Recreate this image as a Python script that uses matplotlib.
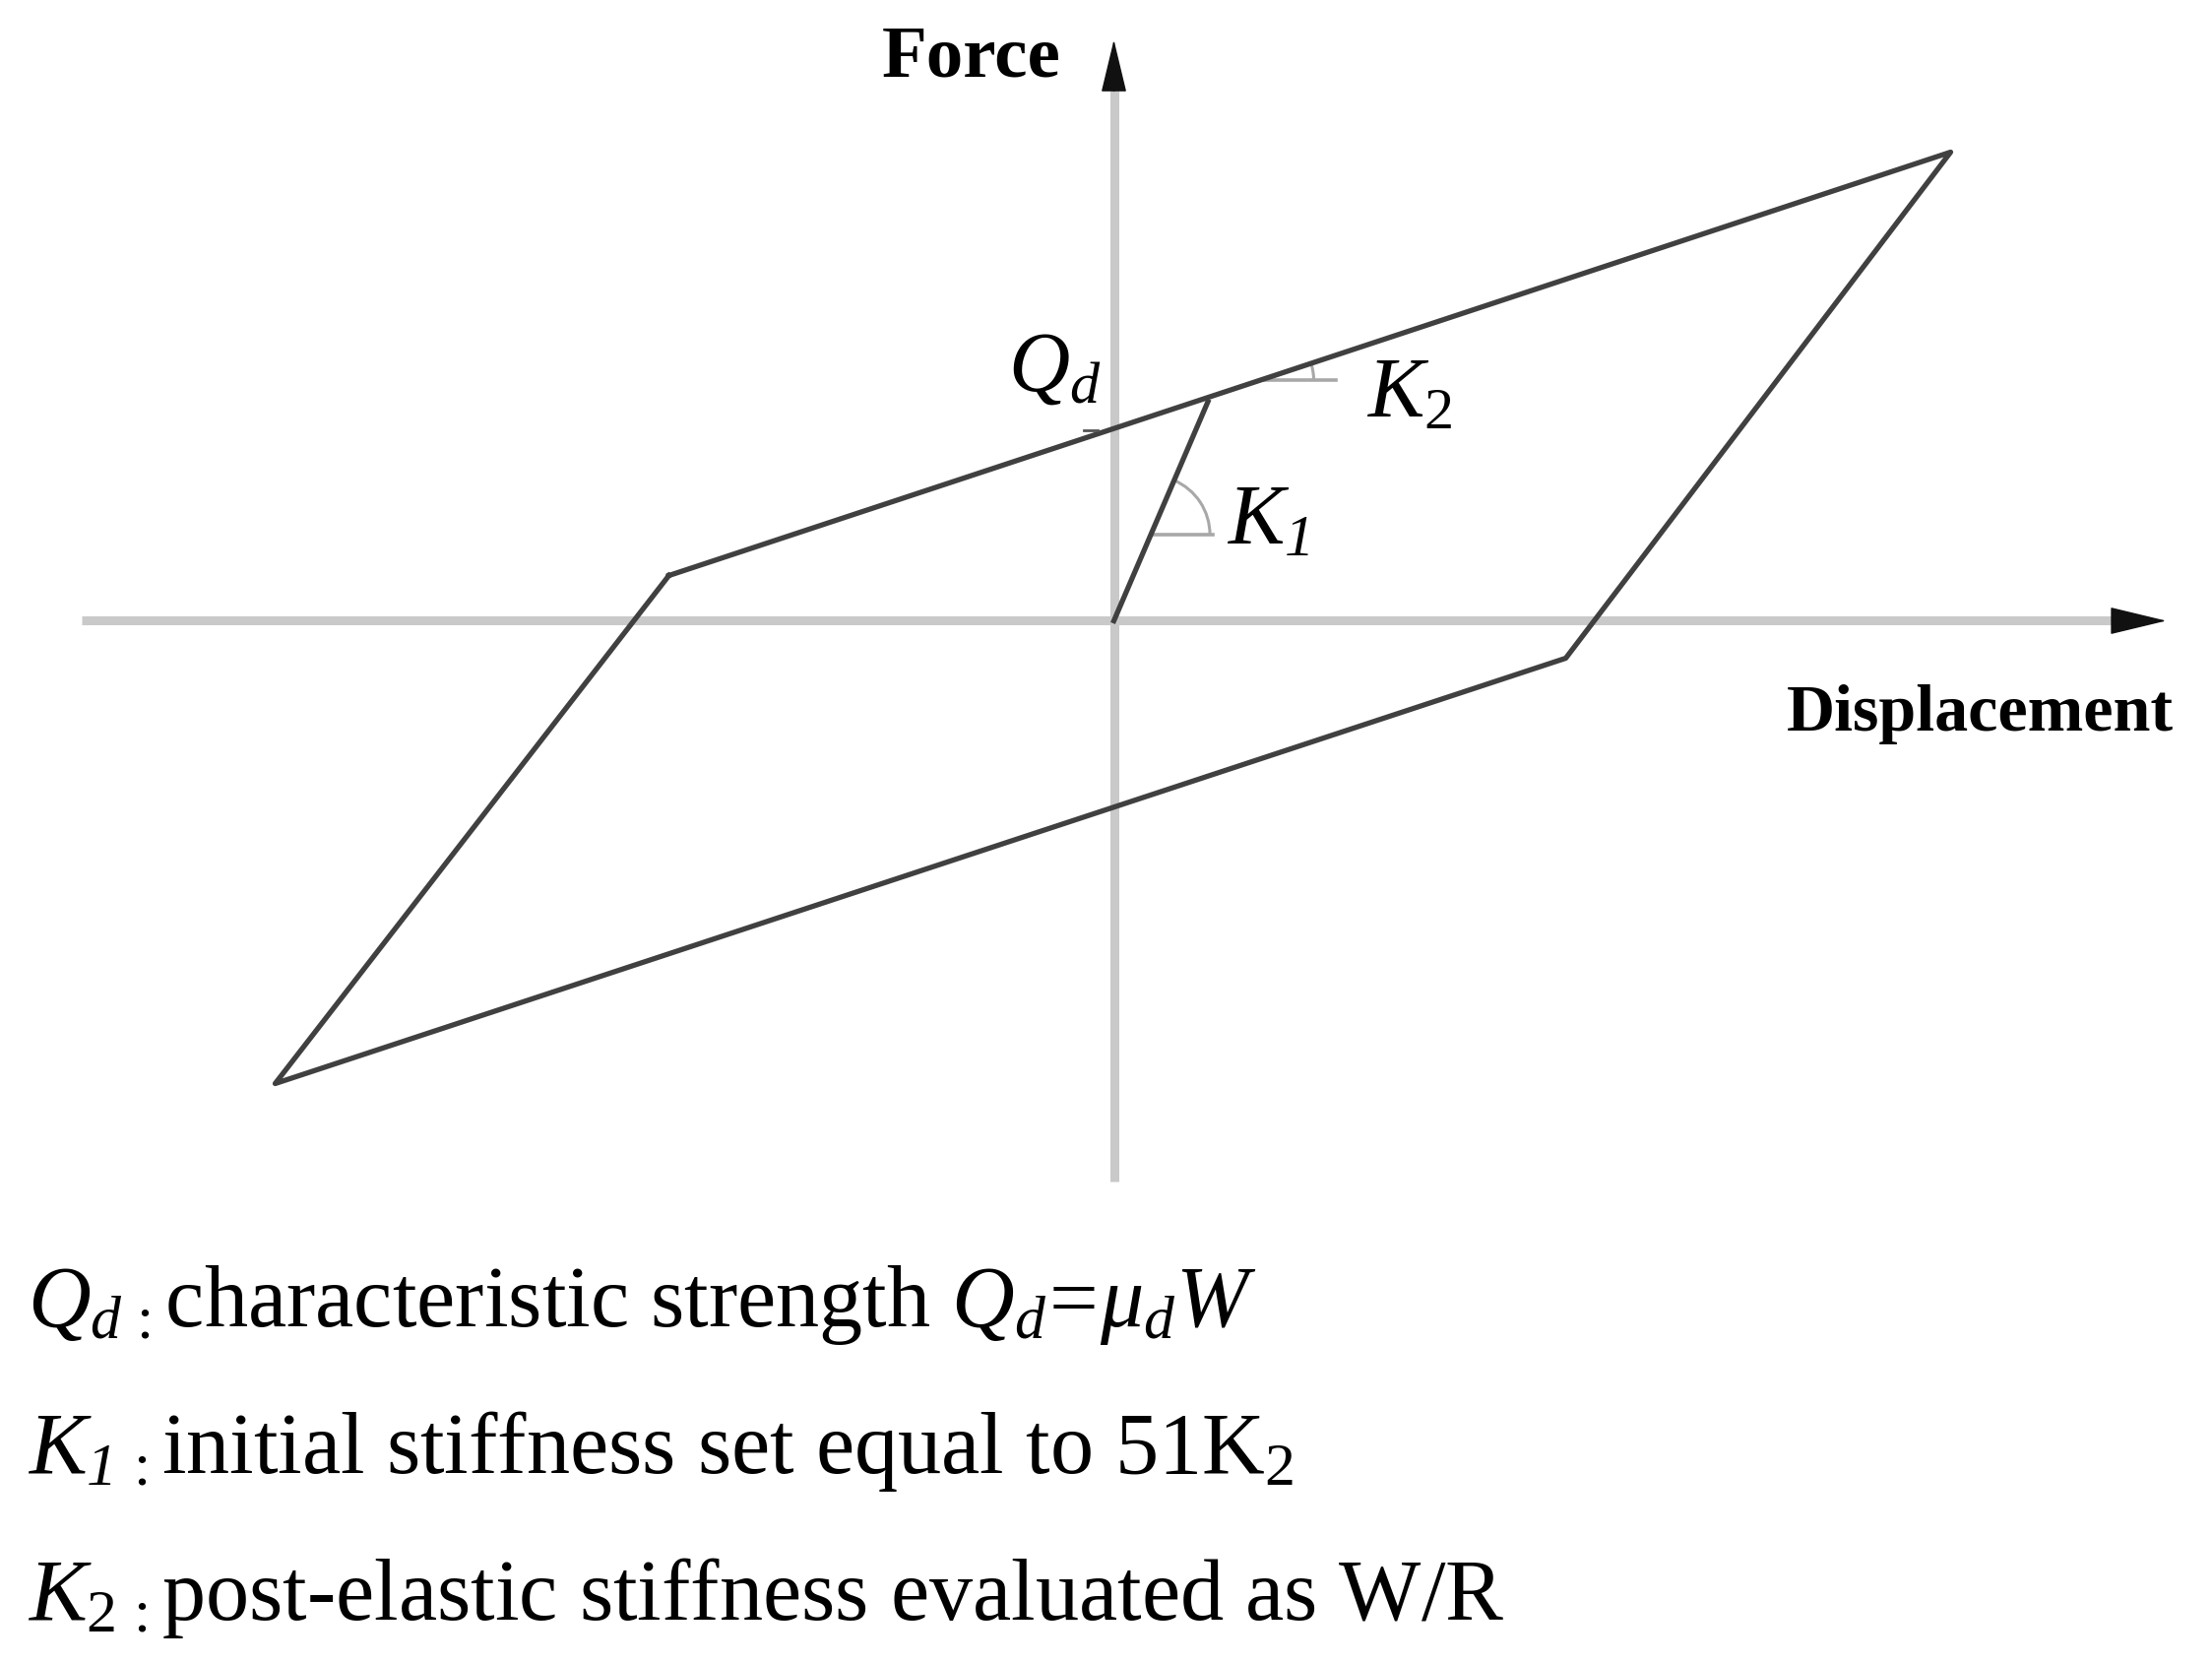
import matplotlib
matplotlib.use("Agg")
import matplotlib.pyplot as plt
from matplotlib.patches import Arc
import numpy as np

plt.rcParams['font.family'] = ['Liberation Serif', 'DejaVu Serif']
plt.rcParams['mathtext.fontset'] = 'custom'
plt.rcParams['mathtext.rm'] = 'Liberation Serif'
plt.rcParams['mathtext.it'] = 'Liberation Serif:italic'
plt.rcParams['mathtext.bf'] = 'Liberation Serif:bold'
plt.rcParams['mathtext.sf'] = 'Liberation Serif:italic'

# ---- data (arbitrary units: displacement, force) ----
loop_disp = [-4.52, 8.50, 4.59, -8.52, -4.52]
loop_force = [0.46, 4.76, -0.38, -4.70, 0.46]
init_disp = [0.0, 0.955]
init_force = [0.0, 2.225]
x_axis_extent = [-10.48, 10.69]
y_axis_extent = [-5.70, 5.90]

axis_label_x = "Displacement"
axis_label_y = "Force"
legend_lines = [
    r"$Q_{d\,:}\!\!$ characteristic strength $Q_{d}\!=\!\mu_{d}W$",
    r"$K_{\mathsf{1}\,:}\!\!$ initial stiffness set equal to 51$\mathrm{K}_{2}$",
    r"$K_{2\,:}\!\!$ post-elastic stiffness evaluated as W/R",
]

W, H, DPI = 2247, 1689, 100
fig = plt.figure(figsize=(W / DPI, H / DPI), dpi=DPI)
ax = fig.add_axes([0, 0, 1, 1])
ax.set_xlim(-11.315, 11.155)
ax.set_ylim(-10.585, 6.305)
ax.axis('off')

axis_gray = '#c9c9c9'
line_col = '#404040'
mark_gray = '#a8a8a8'

# axes lines
head_x, head_y = 0.53, 0.50
ax.plot([x_axis_extent[0], x_axis_extent[1] - head_x], [0, 0], color=axis_gray, lw=6.5,
        solid_capstyle='butt', zorder=1)
ax.plot([0, 0], [y_axis_extent[0], y_axis_extent[1] - head_y], color=axis_gray, lw=6.5,
        solid_capstyle='butt', zorder=1)
ax.annotate("", xy=(x_axis_extent[1], 0), xytext=(x_axis_extent[1] - head_x - 0.02, 0),
            arrowprops=dict(arrowstyle="-|>,head_length=2.7,head_width=0.65",
                            mutation_scale=14, color='#111111', lw=1,
                            shrinkA=0, shrinkB=0), zorder=3)
ax.annotate("", xy=(0, y_axis_extent[1]), xytext=(0, y_axis_extent[1] - head_y - 0.02),
            arrowprops=dict(arrowstyle="-|>,head_length=2.5,head_width=0.6",
                            mutation_scale=14, color='#111111', lw=1,
                            shrinkA=0, shrinkB=0), zorder=3)

# hysteresis loop and initial branch
ax.plot(loop_disp, loop_force, color=line_col, lw=3.8, solid_joinstyle='round', zorder=2)
ax.plot(init_disp, init_force, color=line_col, lw=3.8, zorder=2)

# K2 angle marker
k2_slope = (loop_force[1] - loop_force[0]) / (loop_disp[1] - loop_disp[0])
cx2 = 1.48
cy2 = loop_force[0] + k2_slope * (cx2 - loop_disp[0])
ax.plot([cx2, cx2 + 0.77], [cy2, cy2], color=mark_gray, lw=2.6, zorder=1.5)
ax.add_patch(Arc((cx2, cy2), 1.1, 1.1, theta1=0, theta2=np.degrees(np.arctan(k2_slope)),
                 color=mark_gray, lw=2.2, zorder=1.5))

# K1 angle marker
k1_slope = init_force[1] / init_disp[1]
cy1 = 0.875
cx1 = cy1 / k1_slope
ax.plot([cx1, cx1 + 0.63], [cy1, cy1], color=mark_gray, lw=2.6, zorder=1.5)
ax.add_patch(Arc((cx1, cy1), 1.2, 1.2, theta1=0, theta2=np.degrees(np.arctan(k1_slope)),
                 color=mark_gray, lw=2.2, zorder=1.5))

# Qd tick
qd = loop_force[0] + k2_slope * (0 - loop_disp[0])
ax.plot([-0.31, -0.17], [qd - 0.02, qd - 0.02], color='#555555', lw=2.0, zorder=2)

# labels
ax.text(-0.535, 5.525, axis_label_y, fontsize=54, fontweight='bold', ha='right', va='baseline')
ax.text(6.835, -1.115, axis_label_x, fontsize=49, fontweight='bold', ha='left', va='baseline')
ax.text(-1.07, 2.335, r"$Q_{d}$", fontsize=62, ha='left', va='baseline')
ax.text(2.57, 2.075, r"$K_{2}$", fontsize=62, ha='left', va='baseline')
ax.text(1.15, 0.785, r"$K_{\mathsf{1}}$", fontsize=62, ha='left', va='baseline')

baselines = [-7.165, -8.655, -10.145]
for s, yb in zip(legend_lines, baselines):
    ax.text(-11.03, yb, s, fontsize=63.5, ha='left', va='baseline')

fig.savefig("out.png", dpi=DPI, facecolor='white')
